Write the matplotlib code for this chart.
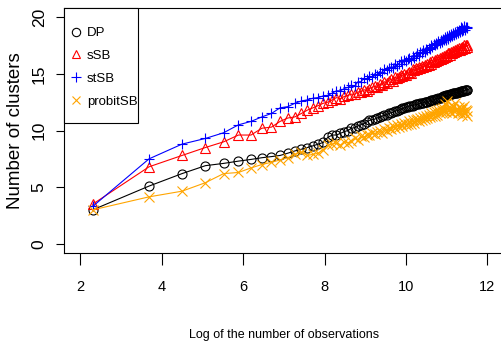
import matplotlib
matplotlib.use('Agg')
import matplotlib.pyplot as plt
from matplotlib.lines import Line2D
from matplotlib.patches import Rectangle

# x: log of the number of observations
log_n = [2.303, 3.689, 4.500, 5.075, 5.521, 5.886, 6.194, 6.461, 6.697, 6.908,
         7.098, 7.272, 7.432, 7.581, 7.719, 7.848, 7.969, 8.083, 8.191, 8.294,
         8.392, 8.485, 8.574, 8.659, 8.740, 8.819, 8.894, 8.967, 9.037, 9.105,
         9.171, 9.234, 9.296, 9.355, 9.413, 9.470, 9.524, 9.578, 9.630, 9.680,
         9.730, 9.778, 9.825, 9.871, 9.916, 9.960, 10.003, 10.045, 10.086, 10.127,
         10.166, 10.205, 10.243, 10.281, 10.317, 10.353, 10.389, 10.423, 10.458, 10.491,
         10.524, 10.557, 10.589, 10.620, 10.651, 10.682, 10.712, 10.741, 10.771, 10.800,
         10.828, 10.856, 10.884, 10.911, 10.938, 10.964, 10.990, 11.016, 11.042, 11.067,
         11.092, 11.116, 11.140, 11.164, 11.188, 11.211, 11.234, 11.257, 11.280, 11.302,
         11.324, 11.346, 11.368, 11.389, 11.410, 11.431, 11.452, 11.472, 11.493, 11.513]

dp = [3.0, 5.1, 6.2, 6.9, 7.1, 7.3, 7.45, 7.6, 7.7, 7.8,
      8.0, 8.2, 8.35, 8.5, 8.65, 8.8, 8.95, 9.4, 9.6, 9.6,
      9.75, 9.9, 10.0, 10.2, 10.25, 10.4, 10.5, 10.6, 10.75, 10.9,
      10.95, 11.0, 11.1, 11.2, 11.25, 11.35, 11.4, 11.5, 11.55, 11.6,
      11.7, 11.75, 11.8, 11.9, 11.95, 12.0, 12.05, 12.1, 12.15, 12.2,
      12.2, 12.25, 12.3, 12.3, 12.35, 12.4, 12.4, 12.45, 12.5, 12.5,
      12.55, 12.6, 12.6, 12.65, 12.7, 12.7, 12.75, 12.8, 12.8, 12.85,
      12.9, 12.9, 12.95, 13.0, 13.0, 13.05, 13.1, 13.1, 13.15, 13.15,
      13.2, 13.2, 13.25, 13.3, 13.3, 13.3, 13.35, 13.35, 13.4, 13.4,
      13.4, 13.45, 13.45, 13.5, 13.5, 13.5, 13.55, 13.55, 13.6, 13.6]

ssb = [3.5, 6.8, 7.8, 8.5, 9.0, 9.6, 9.6, 10.2, 10.3, 10.8,
       11.1, 11.2, 11.5, 11.8, 12.0, 12.2, 12.4, 12.5, 12.7, 12.9,
       12.8, 13.0, 13.1, 13.2, 13.2, 13.4, 13.4, 13.6, 13.5, 13.7,
       13.8, 13.9, 13.8, 14.1, 14.0, 14.3, 14.2, 14.4, 14.5, 14.4,
       14.7, 14.6, 14.7, 14.9, 14.8, 15.0, 14.9, 15.1, 15.2, 15.1,
       15.4, 15.3, 15.5, 15.4, 15.6, 15.5, 15.7, 15.6, 15.8, 15.7,
       15.9, 15.8, 16.0, 15.9, 16.1, 16.0, 16.2, 16.1, 16.3, 16.2,
       16.4, 16.3, 16.5, 16.4, 16.6, 16.5, 16.7, 16.6, 16.8, 16.8,
       16.7, 16.9, 16.8, 17.0, 16.9, 17.1, 17.0, 17.2, 17.1, 17.3,
       17.1, 17.3, 17.2, 17.4, 17.3, 17.5, 17.3, 17.5, 17.4, 17.5]

stsb = [3.3, 7.5, 8.8, 9.3, 9.8, 10.5, 10.8, 11.2, 11.5, 12.0,
        12.1, 12.4, 12.6, 12.7, 12.85, 12.9, 13.05, 13.1, 13.3, 13.5,
        13.5, 13.7, 13.8, 14.0, 13.9, 14.3, 14.3, 14.6, 14.5, 14.8,
        14.7, 15.0, 14.9, 15.2, 15.1, 15.4, 15.3, 15.5, 15.6, 15.5,
        15.9, 15.7, 15.9, 16.1, 15.9, 16.2, 16.1, 16.3, 16.4, 16.2,
        16.6, 16.4, 16.6, 16.8, 16.6, 16.9, 16.8, 17.1, 16.9, 17.2,
        17.1, 17.3, 17.2, 17.5, 17.4, 17.6, 17.5, 17.7, 17.6, 17.9,
        17.7, 18.0, 17.8, 18.1, 18.0, 18.2, 18.0, 18.3, 18.1, 18.4,
        18.2, 18.5, 18.3, 18.6, 18.4, 18.7, 18.5, 18.8, 18.6, 18.9,
        18.7, 19.1, 18.8, 19.0, 18.9, 19.2, 18.9, 19.1, 19.0, 19.1]

probitsb = [3.0, 4.15, 4.65, 5.4, 6.2, 6.3, 6.7, 7.0, 7.2, 7.4,
            7.6, 7.9, 8.1, 7.8, 7.9, 8.0, 8.3, 8.7, 8.8, 8.9,
            8.7, 9.0, 8.9, 9.1, 9.3, 9.2, 9.5, 9.4, 9.6, 9.6,
            9.8, 9.7, 9.9, 10.0, 9.8, 10.1, 10.0, 10.2, 10.1, 10.4,
            10.2, 10.5, 10.3, 10.6, 10.4, 10.7, 10.5, 10.6, 10.8, 10.6,
            10.9, 10.7, 10.9, 11.0, 10.8, 11.1, 10.9, 11.2, 11.0, 11.3,
            11.1, 11.4, 11.2, 11.5, 11.3, 11.6, 11.3, 11.7, 11.4, 11.8,
            11.5, 11.9, 11.6, 12.0, 11.7, 12.3, 11.6, 12.6, 11.8, 12.1,
            11.6, 12.0, 11.5, 12.2, 11.7, 12.4, 11.8, 11.9, 11.5, 12.1,
            11.6, 12.0, 11.4, 11.9, 11.6, 12.2, 11.5, 11.8, 11.3, 11.7]

series_names = ['DP', 'sSB', 'stSB', 'probitSB']
xticks = [2, 4, 6, 8, 10, 12]
yticks = [0, 5, 10, 15, 20]

REG = ['Liberation Sans', 'DejaVu Sans']

fig = plt.figure(figsize=(5.01, 3.43), dpi=100)
AX_W, AX_H = 439.6, 245.0
ax = fig.add_axes([64 / 501, 90 / 343, AX_W / 501, AX_H / 343])

styles = [(dp, 'black', 'o', 6.5), (ssb, 'red', '^', 6.5),
          (stsb, 'blue', '+', 7.5), (probitsb, 'orange', 'x', 6.5)]
handles = []
for (vals, c, m, ms), name in zip(styles, series_names):
    ax.plot(log_n, vals, color=c, lw=0.8, marker=m, ms=ms, mfc='none', mec=c, mew=0.8)
    handles.append(Line2D([], [], ls='none', marker=m, color=c, mfc='none', mec=c,
                          ms=ms - 0.5, mew=0.8))

ax.set_xlim(1.6, 12.4)
ax.set_ylim(-0.8, 20.8)
ax.set_xticks(xticks)
ax.set_yticks(yticks)
ax.set_xticklabels([str(t) for t in xticks])
ax.set_yticklabels([str(t) for t in yticks])
for sp in ax.spines.values():
    sp.set_linewidth(0.8)
    sp.set_color('black')
ax.tick_params(axis='x', direction='out', length=8.5, width=0.8, pad=11)
ax.tick_params(axis='y', direction='out', length=5.5, width=0.8, pad=7)
for lab in ax.get_xticklabels():
    lab.set_fontfamily(REG)
    lab.set_fontsize(10.5)
for lab in ax.get_yticklabels():
    lab.set_rotation(90)
    lab.set_va('center')
    lab.set_fontfamily(REG)
    lab.set_fontsize(12.5)

ax.set_xlabel('Log of the number of observations', family=REG, fontsize=9)
ax.xaxis.set_label_coords(0.5, -0.312)
ax.set_ylabel('Number of clusters', family=REG, fontsize=13.5)
ax.yaxis.set_label_coords(-0.091, 0.5)

# legend box (R-style, fixed frame at top-left of the plot region)
frame = Rectangle((0, (AX_H - 115) / AX_H), 74 / AX_W, 115 / AX_H,
                  transform=ax.transAxes, facecolor='white', edgecolor='black',
                  lw=0.8, zorder=4.5, clip_on=False)
ax.add_patch(frame)
leg = ax.legend(handles, series_names, loc='upper left',
                bbox_to_anchor=(7 / AX_W, (AX_H - 19) / AX_H),
                borderaxespad=0, frameon=False, borderpad=0, handlelength=0.8,
                handletextpad=0.4, labelspacing=0.8, prop=dict(family=REG, size=9.5))

fig.savefig('out.png', dpi=100)
